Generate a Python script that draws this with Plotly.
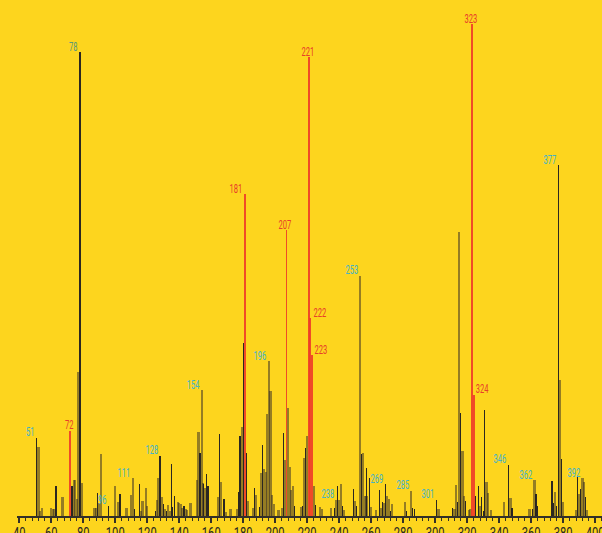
import plotly.graph_objects as go

# Mass spectrum: m/z (x) and relative intensity in % of base peak (y)

# Spectrum A - thin dark sticks
dark_mz = [51, 63, 73, 78, 89, 96, 103, 112, 115, 125, 128, 130, 132, 135, 136, 137, 143,
           153, 155, 157, 158, 165, 168, 177, 178, 180, 182, 187, 190, 192, 205, 212, 217,
           219, 225, 237, 239, 242, 249, 251, 254, 257, 259, 265, 267, 269, 272, 282, 286,
           287, 301, 311, 314, 316, 319, 325, 327, 329, 330, 331, 346, 348, 361, 363, 364,
           373, 374, 376, 377, 379, 389, 391, 394]
dark_int = [15.9, 6.2, 6.1, 94.3, 4.6, 2.1, 4.5, 1.4, 6.6, 1.0, 12.3, 2.4, 1.0, 10.6, 1.8, 4.1, 2.0,
            12.9, 6.5, 8.5, 6.2, 16.7, 3.4, 4.9, 16.3, 35.1, 12.9, 5.7, 1.9, 14.4, 16.8, 2.0, 2.0,
            13.9, 2.3, 1.6, 6.0, 2.0, 5.4, 2.0, 12.7, 9.7, 7.7, 5.3, 2.8, 6.5, 1.0, 1.0, 1.6,
            1.4, 3.3, 1.7, 2.9, 20.9, 3.0, 4.1, 6.0, 3.9, 1.0, 21.5, 10.4, 1.6, 1.4, 4.5, 2.0,
            7.2, 2.6, 2.0, 71.3, 11.5, 8.0, 5.4, 3.9]

# Spectrum B - wider olive sticks
olive_mz = [52, 53, 54, 60, 61, 62, 67, 74, 75, 76, 77, 79, 87, 88, 90, 91, 100, 102, 107, 110,
            111, 116, 117, 119, 120, 126, 127, 129, 131, 133, 134, 139, 140, 141, 142, 144, 145,
            147, 151, 152, 154, 155, 156, 164, 166, 169, 172, 176, 179, 183, 186, 188, 191, 193,
            194, 195, 196, 197, 198, 199, 202, 204, 206, 208, 209, 210, 211, 216, 218, 220, 224,
            228, 229, 235, 238, 240, 241, 243, 250, 253, 255, 256, 257, 260, 263, 266, 268, 270,
            271, 273, 281, 285, 302, 312, 313, 315, 317, 318, 321, 322, 328, 332, 333, 335, 343,
            347, 359, 362, 375, 378, 380, 388, 390, 392, 393, 395]
olive_int = [14.1, 1.0, 1.6, 1.6, 1.4, 1.4, 3.9, 7.3, 7.3, 3.4, 29.3, 6.8, 1.6, 1.6, 2.6, 12.7, 6.1, 2.8, 1.6, 4.2,
             7.7, 1.0, 3.0, 5.6, 2.0, 3.3, 7.8, 3.8, 1.5, 2.3, 1.0, 2.8, 2.6, 2.4, 1.7, 1.4, 1.2,
             2.6, 7.3, 17.0, 25.6, 6.8, 5.7, 3.9, 7.0, 0.8, 1.5, 1.5, 18.0, 3.0, 1.6, 4.3, 8.7, 9.6,
             9.0, 20.7, 31.5, 25.4, 4.3, 2.4, 1.2, 1.7, 11.4, 21.9, 10.0, 5.3, 6.2, 1.9, 11.7, 16.3, 6.2,
             1.9, 1.4, 1.6, 3.3, 3.3, 6.6, 1.2, 3.0, 48.8, 12.9, 4.1, 4.1, 1.9, 1.2, 1.7, 2.6, 4.1,
             3.5, 2.4, 2.9, 5.1, 1.4, 1.4, 6.4, 57.7, 13.2, 4.1, 1.2, 1.4, 2.0, 7.0, 4.7, 1.2, 2.8,
             3.7, 1.5, 7.3, 4.9, 27.6, 2.8, 1.2, 4.5, 7.7, 7.0, 1.2]

# Highlighted fragment ions
hi_mz = [72, 181, 207, 221, 222, 223, 323, 324]
hi_int = [17.3, 65.4, 58.1, 93.3, 40.2, 32.7, 100.0, 24.6]

# Peak labels, grouped by colour
cyan_labels = [51, 96, 111, 128, 154, 196, 238, 253, 269, 285, 301, 346, 362, 377, 392]
green_labels = [78]
red_labels = [72, 181, 207, 221, 222, 223, 323, 324]

x_ticks = list(range(40, 401, 20))

BG = "#FDD51E"
FONT = "Roboto, Liberation Sans, sans-serif"
LABEL_SQUEEZE = 0.58   # horizontal compression of peak labels (condensed look)
TICK_SQUEEZE = 0.7     # horizontal compression of axis tick labels
DIGIT_W = 7.3 * LABEL_SQUEEZE  # approx. rendered width of one label digit, px

fig = go.Figure()
fig.add_trace(go.Bar(x=olive_mz, y=olive_int, width=1.4,
                     marker=dict(color="rgba(45,38,40,0.5)", line=dict(width=0)),
                     hoverinfo="x+y"))
fig.add_trace(go.Bar(x=dark_mz, y=dark_int, width=0.8,
                     marker=dict(color="rgba(32,30,34,0.95)", line=dict(width=0)),
                     hoverinfo="x+y"))
hi_width = [0.7 if m == 207 else 1.25 for m in hi_mz]
fig.add_trace(go.Bar(x=hi_mz, y=hi_int, width=hi_width,
                     marker=dict(color="rgba(238,60,40,0.9)", line=dict(width=0)),
                     hoverinfo="x+y"))

# tallest stick at each m/z, used to place its label
peak_top = {}
for mzs, ints in ((dark_mz, dark_int), (olive_mz, olive_int), (hi_mz, hi_int)):
    for m, v in zip(mzs, ints):
        peak_top[m] = max(v, peak_top.get(m, 0))

centered = {72, 207, 221, 323}
right_side = {222, 223, 324}

annotations = []
for group, color in ((cyan_labels, "#45B3C9"), (green_labels, "#5E9A78"), (red_labels, "#E8402A")):
    for m in group:
        half = len(str(m)) * DIGIT_W / 2
        if m in centered:
            xs = -1
        elif m in right_side:
            xs = half + 3
        else:
            xs = -(half + 2)
        annotations.append(dict(x=m, y=peak_top[m], text=str(m), showarrow=False,
                                xanchor="center", xshift=xs, yanchor="middle", yshift=6,
                                font=dict(family=FONT, size=13, color=color)))

fig.update_layout(
    width=602, height=533,
    margin=dict(l=17, r=0, t=0, b=17),
    paper_bgcolor=BG, plot_bgcolor=BG,
    barmode="overlay", bargap=0,
    showlegend=False,
    annotations=annotations,
    xaxis=dict(range=[38.6, 404.25], tickvals=x_ticks, ticktext=[str(v) for v in x_ticks],
               showgrid=False, zeroline=False, showline=True, linecolor="#333028", linewidth=2,
               ticks="outside", ticklen=5, tickwidth=1.5, tickcolor="#333028",
               minor=dict(dtick=4, tick0=40, ticks="outside", ticklen=3, tickwidth=1, tickcolor="#333028"),
               tickfont=dict(family=FONT, size=16, color="#2A2824"), automargin=False,
               ticklabeloverflow="allow", ticklabelstandoff=-3),
    yaxis=dict(range=[0, 104.9], visible=False, fixedrange=True),
)

# Narrow the digits horizontally around each label's own centre
squeeze_js = """
function squeezeText(sel, s) {
  document.querySelectorAll(sel).forEach(function (el) {
    if (el.getAttribute('data-sq')) return;
    var bb = el.getBBox();
    var cx = bb.x + bb.width / 2;
    var t = el.getAttribute('transform') || '';
    el.setAttribute('transform', t + ' translate(' + cx + ',0) scale(' + s + ',1) translate(' + (-cx) + ',0)');
    el.setAttribute('data-sq', '1');
  });
}
squeezeText('.annotation-text', %s);
squeezeText('.xtick text', %s);
""" % (LABEL_SQUEEZE, TICK_SQUEEZE)

fig.write_html("out.html", post_script=squeeze_js)
